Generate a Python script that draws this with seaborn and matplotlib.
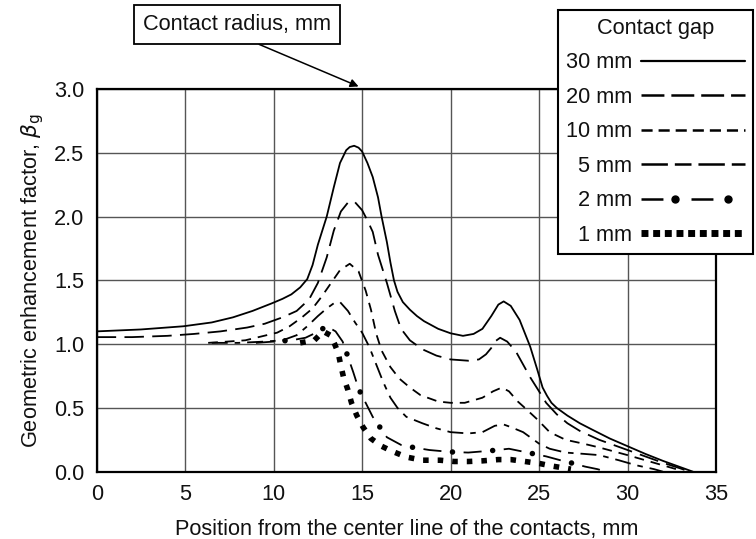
import numpy as np
import pandas as pd
import matplotlib
matplotlib.use("Agg")
import matplotlib.pyplot as plt
from matplotlib.lines import Line2D
from matplotlib.legend_handler import HandlerLine2DCompound
import seaborn as sns

# Geometric enhancement factor along the contact surface, one curve per contact gap
gap_labels = ["30 mm", "20 mm", "10 mm", "5 mm", "2 mm", "1 mm"]

x_30 = [0, 2.5, 4.9, 6.5, 7.7, 8.8, 9.9, 10.5, 11.0, 11.5, 11.9, 12.2, 12.5, 13.0, 13.4, 13.75,
        14.1, 14.3, 14.55, 14.8, 15.0, 15.3, 15.6, 15.9, 16.1, 16.4, 16.6, 16.8, 17.0, 17.3,
        17.7, 18.1, 18.5, 19.3, 20.0, 20.7, 21.3, 21.8, 22.3, 22.7, 23.0, 23.4, 23.9, 24.5,
        24.9, 25.2, 25.45, 25.7, 26.0, 26.6, 27.3, 28.0, 29.0, 30.0, 31.0, 32.0, 33.0, 33.7]
y_30 = [1.10, 1.115, 1.14, 1.17, 1.21, 1.26, 1.32, 1.355, 1.39, 1.445, 1.51, 1.62, 1.78, 2.0,
        2.23, 2.42, 2.52, 2.545, 2.555, 2.54, 2.51, 2.42, 2.31, 2.15, 2.00, 1.80, 1.64, 1.50,
        1.41, 1.33, 1.27, 1.22, 1.18, 1.12, 1.085, 1.065, 1.08, 1.12, 1.22, 1.31, 1.335, 1.30,
        1.19, 0.98, 0.80, 0.66, 0.595, 0.54, 0.50, 0.44, 0.38, 0.33, 0.26, 0.20, 0.14, 0.085,
        0.035, 0.0]

x_20 = [0, 2, 4, 5.5, 7, 8.5, 9.5, 10.5, 11.3, 12.0, 12.5, 13.0, 13.4, 13.8, 14.2, 14.55, 15.0,
        15.3, 15.6, 15.9, 16.4, 16.85, 17.2, 17.7, 18.4, 19.2, 20.0, 21.0, 21.6, 22.0, 22.3,
        22.5, 22.8, 23.2, 23.7, 24.1, 24.5, 25.0, 25.4, 26.0, 26.6, 27.3, 28.4, 30.0, 31.0,
        32.0, 33.0, 33.5]
y_20 = [1.055, 1.055, 1.065, 1.08, 1.10, 1.13, 1.16, 1.21, 1.26, 1.35, 1.48, 1.68, 1.89, 2.04,
        2.11, 2.12, 2.05, 1.97, 1.88, 1.70, 1.48, 1.26, 1.12, 1.03, 0.96, 0.91, 0.88, 0.87,
        0.88, 0.92, 0.97, 1.02, 1.05, 1.02, 0.94, 0.84, 0.74, 0.63, 0.54, 0.45, 0.38, 0.32,
        0.25, 0.17, 0.12, 0.07, 0.025, 0.0]

x_10 = [6.3, 7.4, 8.4, 9.3, 10.2, 10.9, 11.6, 12.2, 12.7, 13.2, 13.75, 14.3, 14.8, 15.2, 15.5,
        15.8, 16.1, 16.6, 17.1, 17.7, 18.3, 19.3, 20.0, 20.8, 21.8, 22.4, 22.9, 23.3, 23.8,
        24.2, 24.9, 25.6, 26.5, 27.5, 28.4, 30.0, 31.0, 32.0, 33.0]
y_10 = [1.01, 1.02, 1.03, 1.06, 1.09, 1.14, 1.21, 1.28, 1.37, 1.47, 1.58, 1.63, 1.57, 1.42, 1.27,
        1.08, 0.95, 0.82, 0.73, 0.66, 0.60, 0.55, 0.54, 0.54, 0.58, 0.63, 0.66, 0.63, 0.55,
        0.50, 0.41, 0.31, 0.25, 0.22, 0.19, 0.13, 0.09, 0.05, 0.01]

x_5 = [6.5, 8.0, 9.5, 10.5, 11.3, 11.9, 12.5, 13.0, 13.4, 13.75, 14.2, 14.6, 15.0, 15.4, 15.8,
       16.2, 16.6, 17.0, 17.5, 18.4, 19.2, 20.0, 21.0, 21.8, 22.5, 23.0, 23.4, 24.1, 24.5,
       25.0, 25.6, 26.5, 27.5, 28.4, 29.5, 30.5, 31.5, 32.0]
y_5 = [1.01, 1.01, 1.02, 1.03, 1.07, 1.14, 1.22, 1.28, 1.32, 1.33, 1.26, 1.17, 1.09, 0.98, 0.84,
       0.70, 0.58, 0.50, 0.43, 0.38, 0.34, 0.31, 0.30, 0.31, 0.36, 0.37, 0.35, 0.31, 0.27,
       0.22, 0.18, 0.15, 0.14, 0.13, 0.09, 0.05, 0.02, 0.0]

x_2 = [9.0, 10.0, 11.0, 11.8, 12.4, 13.0, 13.5, 13.9, 14.1, 14.5, 14.8, 15.2, 15.6, 16.0, 16.4,
       17.2, 17.9, 18.8, 20.0, 21.0, 22.3, 23.3, 24.0, 24.7, 25.4, 26.2, 26.9, 27.6, 28.3, 28.8]
y_2 = [1.01, 1.02, 1.03, 1.05, 1.09, 1.14, 1.10, 1.02, 0.94, 0.78, 0.65, 0.54, 0.43, 0.35, 0.27,
       0.21, 0.19, 0.17, 0.155, 0.15, 0.165, 0.18, 0.16, 0.14, 0.12, 0.09, 0.066, 0.04, 0.02, 0.0]

x_1 = [11.5, 12.3, 12.8, 13.2, 13.45, 13.65, 13.8, 13.95, 14.2, 14.4, 14.7, 15.05, 15.5, 16.1,
       16.7, 17.5, 18.4, 19.4, 20.2, 21.0, 21.8, 22.7, 23.4, 24.2, 25.0, 25.7, 26.5, 26.8]
y_1 = [1.01, 1.03, 1.10, 1.07, 1.00, 0.93, 0.83, 0.74, 0.64, 0.54, 0.44, 0.35, 0.26, 0.20,
       0.16, 0.115, 0.09, 0.09, 0.08, 0.08, 0.085, 0.095, 0.095, 0.08, 0.065, 0.045, 0.027, 0.02]

CONTACT_RADIUS = 15.0

x_ticks = list(range(0, 36, 5))
y_ticks = [0.0, 0.5, 1.0, 1.5, 2.0, 2.5, 3.0]

series = {
    "30 mm": (x_30, y_30),
    "20 mm": (x_20, y_20),
    "10 mm": (x_10, y_10),
    "5 mm": (x_5, y_5),
    "2 mm": (x_2, y_2),
    "1 mm": (x_1, y_1),
}
df = pd.concat(
    [pd.DataFrame({"position": xs, "beta": ys, "gap": name}) for name, (xs, ys) in series.items()],
    ignore_index=True,
)

sns.set_style("white")
plt.rcParams["font.family"] = ["Liberation Sans", "DejaVu Sans"]
plt.rcParams["lines.scale_dashes"] = False
FS = 15.7
INK = "#111111"

fig = plt.figure(figsize=(7.56, 5.39), dpi=100)
ax = fig.add_axes([96.7 / 756, 1 - 471.7 / 539, (716 - 96.7) / 756, (471.7 - 89) / 539])

# line styles (dash lengths in points)
line_styles = {
    "30 mm": dict(linestyle="-", lw=1.3),
    "20 mm": dict(linestyle=(0, (14, 6)), lw=1.3),
    "10 mm": dict(linestyle=(0, (7, 5)), lw=1.3),
    "5 mm": dict(linestyle=(0, (11.5, 5, 4, 5)), lw=1.3),
    "2 mm": dict(linestyle=(0, (13, 16)), lw=1.3),
    "1 mm": dict(linestyle=(0, (4, 6.5)), lw=4.0, dash_capstyle="butt"),
}

for name in gap_labels:
    sub = df[df["gap"] == name]
    sns.lineplot(data=sub, x="position", y="beta", ax=ax, color="black", sort=False,
                 estimator=None, legend=False, **line_styles[name])
    if name == "2 mm":
        # round dots sitting in the gaps of the dash pattern
        sns.lineplot(data=sub, x="position", y="beta", ax=ax, color="black", sort=False,
                     estimator=None, legend=False, lw=4.0, dash_capstyle="round",
                     linestyle=(8, (0.01, 28.99)))

ax.set_xlim(0, 35)
ax.set_ylim(0, 3.0)
ax.set_xticks(x_ticks)
ax.set_xticklabels([str(v) for v in x_ticks])
ax.set_yticks(y_ticks)
ax.set_yticklabels([f"{v:.1f}" for v in y_ticks])
ax.tick_params(length=0, labelsize=FS, colors=INK, pad=9)
ax.grid(True, color="#555555", lw=1.0)
ax.set_axisbelow(True)
for sp in ax.spines.values():
    sp.set_visible(True)
    sp.set_color("black")
    sp.set_linewidth(1.6)

ax.set_xlabel("Position from the center line of the contacts, mm", fontsize=FS, color=INK, labelpad=10)
ax.set_ylabel(r"Geometric enhancement factor, $\beta_{\rm g}$", fontsize=FS, color=INK, labelpad=6)

ax.annotate(
    "Contact radius, mm",
    xy=(CONTACT_RADIUS - 0.2, 3.02), xycoords="data",
    xytext=(237 / 756, 1 - 24.5 / 539), textcoords="figure fraction",
    ha="center", va="center", fontsize=FS, color=INK,
    bbox=dict(boxstyle="square,pad=0.4", fc="white", ec="black", lw=1.3),
    arrowprops=dict(arrowstyle="-|>", color="black", lw=1.1, mutation_scale=12,
                    shrinkA=0, shrinkB=0, relpos=(0.5, 0.0)),
    annotation_clip=False,
)


class DotDashHandler(HandlerLine2DCompound):
    """Dash line with dots placed inside two of its gaps."""

    def get_xdata(self, legend, xdescent, ydescent, width, height, fontsize):
        xdata = np.array([-xdescent, -xdescent + width * 0.92])
        xmark = -xdescent + width * np.array([0.33, 0.83])
        return xdata, xmark


h30 = Line2D([], [], color="black", lw=1.6)
h20 = Line2D([], [], color="black", lw=1.8, linestyle=(0, (16.5, 5)))
h10 = Line2D([], [], color="black", lw=1.8, linestyle=(0, (8, 4.3)))
h5 = Line2D([], [], color="black", lw=1.8, linestyle=(0, (19, 5, 12, 5)))
h2 = Line2D([], [], color="black", lw=1.8, linestyle=(0, (15.8, 20.2)), marker="o",
            markersize=5, markerfacecolor="black", markeredgecolor="black")
h1 = Line2D([], [], color="black", lw=5, linestyle=(0, (5, 3.4)), dash_capstyle="butt")
handles = [h30, h20, h10, h5, h2, h1]

leg = fig.legend(
    handles, gap_labels, loc="upper left",
    bbox_to_anchor=(558 / 756, 1 - 10 / 539), bbox_transform=fig.transFigure,
    borderaxespad=0, frameon=True, fancybox=False, edgecolor="black", framealpha=1,
    fontsize=FS, title="Contact gap", title_fontsize=FS, markerfirst=False,
    handlelength=4.8, handletextpad=0.4, labelspacing=0.62, borderpad=0.36,
    handler_map={h2: DotDashHandler(numpoints=2)},
)
leg.get_frame().set_linewidth(1.5)
for t in leg.get_texts():
    t.set_color(INK)
leg.get_title().set_color(INK)

# underline the legend title
fig.canvas.draw()
renderer = fig.canvas.get_renderer()
tb = leg.get_title().get_window_extent(renderer)
inv = fig.transFigure.inverted()
(x0, y0), (x1, _) = inv.transform([(tb.x0 - 1, tb.y0 - 1), (tb.x1 + 6, tb.y0)])
fig.add_artist(Line2D([x0, x1], [y0, y0], transform=fig.transFigure, color="black", lw=1.2))

fig.savefig("out.png", dpi=100)
